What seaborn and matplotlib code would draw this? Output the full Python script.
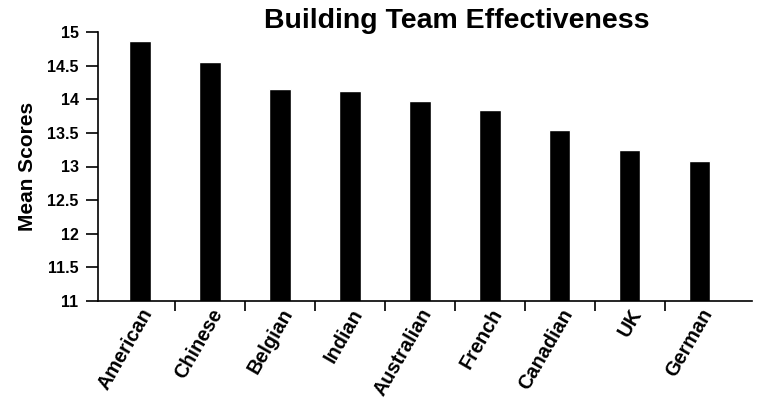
import matplotlib.pyplot as plt
import seaborn as sns
import numpy as np
import pandas as pd

groups = ["American", "Chinese", "Belgian", "Indian", "Australian",
          "French", "Canadian", "UK", "German"]
scores = [14.87, 14.56, 14.15, 14.12, 13.97, 13.84, 13.55, 13.25, 13.08]
yticks = [11, 11.5, 12, 12.5, 13, 13.5, 14, 14.5, 15]

df = pd.DataFrame({"group": groups, "score": scores})

sns.set_style("white")
plt.rcParams['font.family'] = ['Liberation Sans', 'DejaVu Sans']
plt.rcParams['text.color'] = 'black'
plt.rcParams['axes.labelcolor'] = 'black'
plt.rcParams['xtick.color'] = 'black'
plt.rcParams['ytick.color'] = 'black'

fig = plt.figure(figsize=(7.57, 4), dpi=100)
ax = fig.add_axes([98/757, 1-301/400, (752-98)/757, (301-32)/400])

sns.barplot(data=df, x="group", y="score", order=groups, color="black",
            width=0.31, ax=ax, saturation=1)

ax.set_ylim(11, 15)
ax.set_xlim(-0.6, 8.75)
ax.set_yticks(yticks)
ax.set_yticklabels([f"{t:g}" for t in yticks], fontweight="bold", fontsize=11.5)

# ticks between categories, labels at bar centres
ax.set_xticks(np.arange(len(groups)))
ax.set_xticks(np.arange(len(groups) - 1) + 0.5, minor=True)
ax.tick_params(axis="x", which="major", length=0, pad=3)
ax.tick_params(axis="x", which="minor", length=7, width=1.2, direction="out", bottom=True)
ax.tick_params(axis="y", length=9, width=1.2, direction="out", left=True, pad=5)
ax.set_xticklabels(groups, rotation=60, ha="right", rotation_mode="anchor",
                   fontweight="bold", fontsize=14.3)

for s in ["top", "right"]:
    ax.spines[s].set_visible(False)
for s in ["left", "bottom"]:
    ax.spines[s].set_color("black")
    ax.spines[s].set_linewidth(1.2)

ax.set_xlabel("")
ax.set_ylabel("Mean Scores", fontweight="bold", fontsize=15, labelpad=7)
fig.text(457/757, 1-21/400, "Building Team Effectiveness", ha="center", va="center",
         fontweight="bold", fontsize=20.5)

fig.savefig("out.png", dpi=100)
